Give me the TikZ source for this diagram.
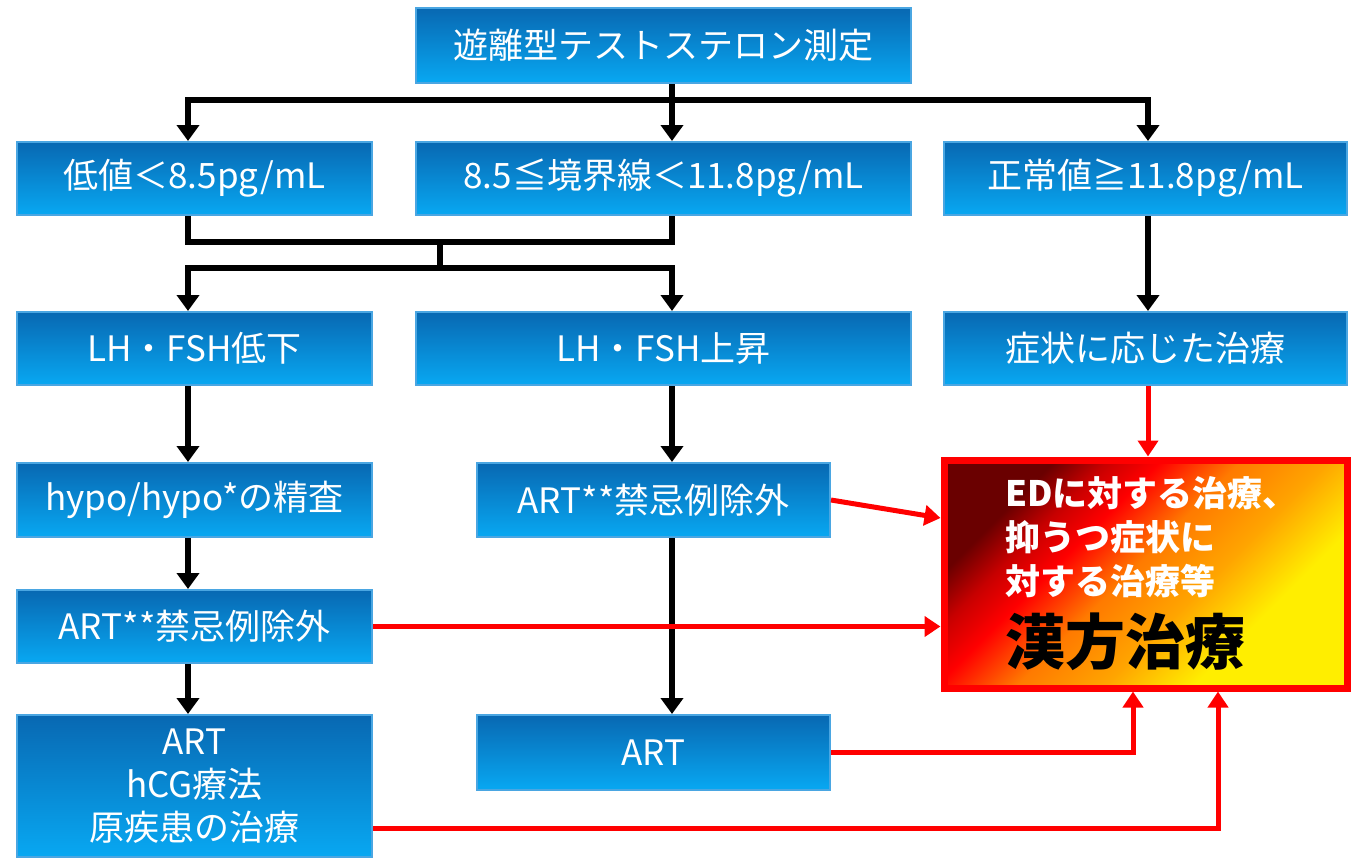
\documentclass[tikz,border=0pt]{standalone}
\usepackage{fontspec}
\setmainfont{Noto Sans CJK JP}
\usetikzlibrary{arrows.meta,calc}
\definecolor{btop}{HTML}{0868B2}
\definecolor{bbot}{HTML}{08A8F2}
\definecolor{bedge}{HTML}{4AA6E2}
\definecolor{dred}{HTML}{6A0000}
\definecolor{mred}{HTML}{C80000}
\definecolor{rorange}{HTML}{FF7A00}
\definecolor{lorange}{HTML}{FFA500}
\definecolor{ryellow}{HTML}{FFEE00}
\pgfdeclarehorizontalshading{redgrad}{100bp}{color(0bp)=(dred); color(27bp)=(dred); color(33bp)=(mred); color(39bp)=(red); color(48bp)=(rorange); color(58bp)=(lorange); color(68bp)=(ryellow); color(100bp)=(ryellow)}
\tikzset{
  bluebox/.style={draw=bedge, line width=2pt, top color=btop, bottom color=bbot,
    text=white, font=\fontsize{35}{43}\selectfont, inner sep=0pt, align=center},
  redbox/.style={draw=red, line width=7pt, shade, shading=redgrad, shading angle=-45,
    text=white, inner sep=0pt, align=left, text width=281pt,
    font=\bfseries\fontsize{35}{44}\selectfont},
  bl/.style={line width=6pt, line join=miter},
  ba/.style={bl, -{Triangle[width=22pt,length=16pt]}},
  rl/.style={draw=red, line width=5pt, line join=miter},
  ra/.style={rl, -{Triangle[width=20pt,length=16pt]}}
}
\begin{document}
\begin{tikzpicture}[x=1pt,y=-1pt]
\useasboundingbox (0,0) rectangle (1357,859);
\fill[white] (0,0) rectangle (1357,859);
% columns and levels
\coordinate (cL) at (188,0);
\coordinate (cM) at (672,0);
\coordinate (cR) at (1148,0);
\coordinate (cJ) at (440,0);
\coordinate (cA) at (1133,0);
\coordinate (cB) at (1218,0);
\coordinate (h1) at (0,100);
\coordinate (h2) at (0,242);
\coordinate (h3) at (0,268);
\coordinate (h4) at (0,828);
\coordinate (h5) at (0,518);
% boxes
\node[bluebox, minimum width=495, minimum height=75] (top) at (663.5,45.5) {遊離型テストステロン測定};
\node[bluebox, minimum width=355, minimum height=73] (low) at (194.5,178.5) {低値＜8.5pg/mL};
\node[bluebox, minimum width=495, minimum height=73] (border) at (663.5,178.5) {8.5≦境界線＜11.8pg/mL};
\node[bluebox, minimum width=403, minimum height=73] (normal) at (1145.5,178.5) {正常値≧11.8pg/mL};
\node[bluebox, minimum width=355, minimum height=73] (lhlow) at (194.5,348.5) {LH・FSH低下};
\node[bluebox, minimum width=495, minimum height=73] (lhup) at (663.5,348.5) {LH・FSH上昇};
\node[bluebox, minimum width=403, minimum height=73] (sym) at (1145.5,348.5) {症状に応じた治療};
\node[bluebox, minimum width=355, minimum height=74] (hypo) at (194.5,500) {hypo/hypo*の精査};
\node[bluebox, minimum width=353, minimum height=74] (martx) at (653.5,500) {ART**禁忌例除外};
\node[bluebox, minimum width=355, minimum height=73] (lartx) at (194.5,626.5) {ART**禁忌例除外};
\node[bluebox, minimum width=355, minimum height=142] (treat) at (194.5,786) {ART\\hCG療法\\原疾患の治療};
\node[bluebox, minimum width=353, minimum height=75] (mart) at (653.5,752.5) {ART};
\node[redbox, minimum width=403, minimum height=228] (red) at (1145.5,574)
  {EDに対する治療、\\抑うつ症状に\\対する治療等\\[14pt]
   {\fontsize{60}{60}\selectfont\color{black}漢方治療}};
% black connectors
\draw[ba] (top.south -| cM) -- (border.north -| cM);
\draw[ba] (h1 -| cM) -| (low.north -| cL);
\draw[ba] (h1 -| cM) -| (normal.north -| cR);
\draw[bl] (low.south -| cL) |- (h2 -| cM) -- (border.south -| cM);
\draw[bl] (h2 -| cJ) -- (h3 -| cJ);
\draw[ba] (h3 -| cJ) -| (lhlow.north -| cL);
\draw[ba] (h3 -| cJ) -| (lhup.north -| cM);
\draw[ba] (normal.south -| cR) -- (sym.north -| cR);
\draw[ba] (lhlow.south -| cL) -- (hypo.north -| cL);
\draw[ba] (hypo.south -| cL) -- (lartx.north -| cL);
\draw[ba] (lartx.south -| cL) -- (treat.north -| cL);
\draw[ba] (lhup.south -| cM) -- (martx.north -| cM);
\draw[ba] (martx.south -| cM) -- (mart.north -| cM);
% red connectors
\draw[ra] (sym.south -| cR) -- (red.north -| cR);
\draw[ra] (martx.east) -- (h5 -| red.west);
\draw[ra] (lartx.east) -- (lartx.east -| red.west);
\draw[ra] (mart.east) -| (red.south -| cA);
\draw[ra] (h4 -| treat.east) -| (red.south -| cB);
\end{tikzpicture}
\end{document}
